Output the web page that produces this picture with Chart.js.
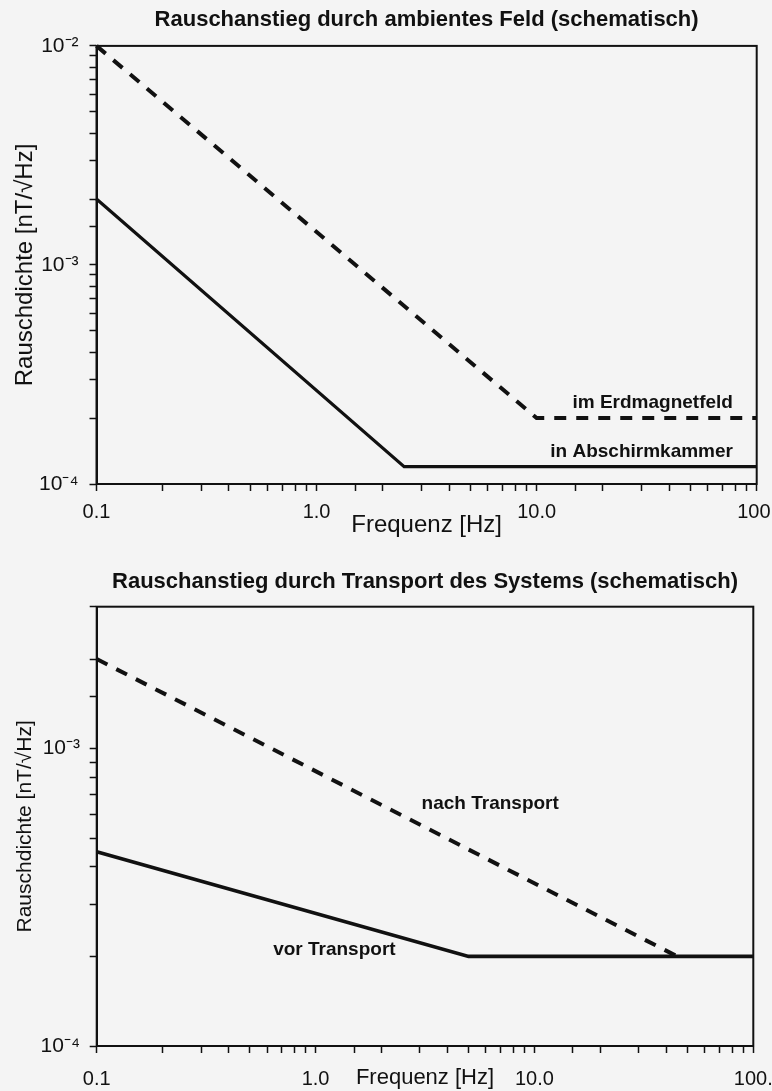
<!DOCTYPE html>
<html>
<head>
<meta charset="utf-8">
<script src="https://cdn.jsdelivr.net/npm/chart.js@4.4.0/dist/chart.umd.min.js"></script>
<style>
  html, body { margin: 0; padding: 0; background: #f4f4f4; }
  #page { position: relative; width: 772px; height: 1091px; overflow: hidden; }
  canvas { position: absolute; left: 0; }
  #topChart { top: 0; }
  #bottomChart { top: 545px; }
</style>
</head>
<body>
<div id="page">
  <canvas id="topChart" width="772" height="545"></canvas>
  <canvas id="bottomChart" width="772" height="546"></canvas>
</div>
<script>
// top chart: noise increase by ambient field
const shieldFreq = [0.1, 2.5, 100];
const shieldNoise = [2.0e-3, 1.2e-4, 1.2e-4];
const earthFreq = [0.1, 10, 100];
const earthNoise = [1.0e-2, 2.0e-4, 2.0e-4];

// bottom chart: noise increase by transport
const beforeFreq = [0.1, 5, 100];
const beforeNoise = [4.5e-4, 2.0e-4, 2.0e-4];
const afterFreq = [0.1, 45];
const afterNoise = [2.0e-3, 2.0e-4];

// tick labels
const xTickValues = [0.1, 1, 10, 100];
const xTickLabels = ['0.1', '1.0', '10.0', '100.'];
const yTickValues = [1e-4, 1e-3, 1e-2];
const yTickLabels = ['10\u207B\u2074', '10\u207B\u00B3', '10\u207B\u00B2'];

const FONT = "'Liberation Sans', Arial, sans-serif";
const INK = '#111';

Chart.defaults.font.family = FONT;
Chart.defaults.color = INK;

function toPoints(xs, ys) {
  return xs.map((x, i) => ({ x: x, y: ys[i] }));
}

function labelFor(value, values, labels) {
  for (let i = 0; i < values.length; i++) {
    if (Math.abs(value - values[i]) < values[i] * 1e-6) return labels[i];
  }
  return '';
}

// box around the plot area
const framePlugin = {
  id: 'frame',
  beforeDatasetsDraw(chart) {
    const a = chart.chartArea;
    const ctx = chart.ctx;
    ctx.save();
    ctx.strokeStyle = INK;
    ctx.lineWidth = 2;
    ctx.strokeRect(a.left, a.top, a.right - a.left, a.bottom - a.top);
    ctx.restore();
  }
};

// curve names written next to the lines
const curveLabelPlugin = {
  id: 'curveLabels',
  afterDatasetsDraw(chart, args, opts) {
    const ctx = chart.ctx;
    ctx.save();
    ctx.font = 'bold 19px ' + FONT;
    ctx.fillStyle = INK;
    ctx.textBaseline = 'middle';
    opts.items.forEach(item => {
      ctx.textAlign = item.align;
      ctx.fillText(item.text,
        chart.scales.x.getPixelForValue(item.x),
        chart.scales.y.getPixelForValue(item.y));
    });
    ctx.restore();
  }
};

function makeChart(id, cfg) {
  const ctx = document.getElementById(id).getContext('2d');
  return new Chart(ctx, {
    type: 'line',
    data: { datasets: cfg.datasets },
    plugins: [framePlugin, curveLabelPlugin],
    options: {
      responsive: false,
      animation: false,
      devicePixelRatio: 1,
      layout: { padding: { left: 0, top: 0, bottom: 0, right: cfg.padRight } },
      elements: { point: { radius: 0 }, line: { tension: 0 } },
      plugins: {
        legend: { display: false },
        tooltip: { enabled: false },
        title: {
          display: true,
          fullSize: false,
          text: cfg.title,
          color: INK,
          font: { size: 22, weight: 'bold' },
          padding: cfg.titlePad
        },
        curveLabels: { items: cfg.labels }
      },
      scales: {
        x: {
          type: 'logarithmic',
          min: 0.1,
          max: 100,
          border: { display: true, color: INK, width: 2 },
          grid: { drawOnChartArea: false, drawTicks: true, tickLength: 7, tickColor: INK, tickWidth: 1.5 },
          ticks: {
            autoSkip: false,
            maxRotation: 0,
            color: INK,
            font: { size: 20 },
            padding: cfg.xTickPad,
            callback: v => labelFor(v, xTickValues, xTickLabels)
          },
          title: {
            display: true,
            text: 'Frequenz [Hz]',
            color: INK,
            font: { size: cfg.xTitleSize },
            padding: { top: 0, bottom: cfg.xTitlePad }
          },
          afterFit: s => { s.height = cfg.xHeight; s.paddingLeft = 0; s.paddingRight = 0; }
        },
        y: {
          type: 'logarithmic',
          min: 1e-4,
          max: cfg.yMax,
          border: { display: true, color: INK, width: 2 },
          grid: { drawOnChartArea: false, drawTicks: true, tickLength: 7, tickColor: INK, tickWidth: 1.5 },
          ticks: {
            autoSkip: false,
            color: INK,
            font: { size: 21 },
            padding: cfg.yTickPad,
            callback: v => labelFor(v, yTickValues, yTickLabels)
          },
          title: {
            display: true,
            text: 'Rauschdichte [nT/\u221AHz]',
            color: INK,
            font: { size: cfg.yTitleSize },
            padding: { top: cfg.yTitlePad, bottom: 0 }
          },
          afterFit: s => { s.width = cfg.yWidth; s.paddingTop = 0; s.paddingBottom = 0; }
        }
      }
    }
  });
}

makeChart('topChart', {
  title: 'Rauschanstieg durch ambientes Feld (schematisch)',
  titlePad: { top: 7, bottom: 12.5 },
  padRight: 15.3,
  yMax: 1e-2,
  xHeight: 61, xTickPad: 9, xTitleSize: 24, xTitlePad: 5,
  yWidth: 96.5, yTickPad: 11, yTitleSize: 24, yTitlePad: 10.6,
  datasets: [
    { label: 'in Abschirmkammer', data: toPoints(shieldFreq, shieldNoise),
      borderColor: INK, borderWidth: 3.2, clip: false },
    { label: 'im Erdmagnetfeld', data: toPoints(earthFreq, earthNoise),
      borderColor: INK, borderWidth: 4, borderDash: [12, 10], clip: false }
  ],
  labels: [
    { text: 'im Erdmagnetfeld', x: 78, y: 2.35e-4, align: 'right' },
    { text: 'in Abschirmkammer', x: 78, y: 1.41e-4, align: 'right' }
  ]
});

makeChart('bottomChart', {
  title: 'Rauschanstieg durch Transport des Systems (schematisch)',
  titlePad: { top: 23.5, bottom: 11.8 },
  padRight: 18.7,
  yMax: 3e-3,
  xHeight: 45, xTickPad: 14, xTitleSize: 22, xTitlePad: 0,
  yWidth: 96.7, yTickPad: 9.7, yTitleSize: 21, yTitlePad: 12.4,
  datasets: [
    { label: 'vor Transport', data: toPoints(beforeFreq, beforeNoise),
      borderColor: INK, borderWidth: 3.8, clip: false },
    { label: 'nach Transport', data: toPoints(afterFreq, afterNoise),
      borderColor: INK, borderWidth: 4, borderDash: [12, 10], clip: false }
  ],
  labels: [
    { text: 'nach Transport', x: 3.05, y: 6.5e-4, align: 'left' },
    { text: 'vor Transport', x: 0.64, y: 2.1e-4, align: 'left' }
  ]
});
</script>
</body>
</html>
